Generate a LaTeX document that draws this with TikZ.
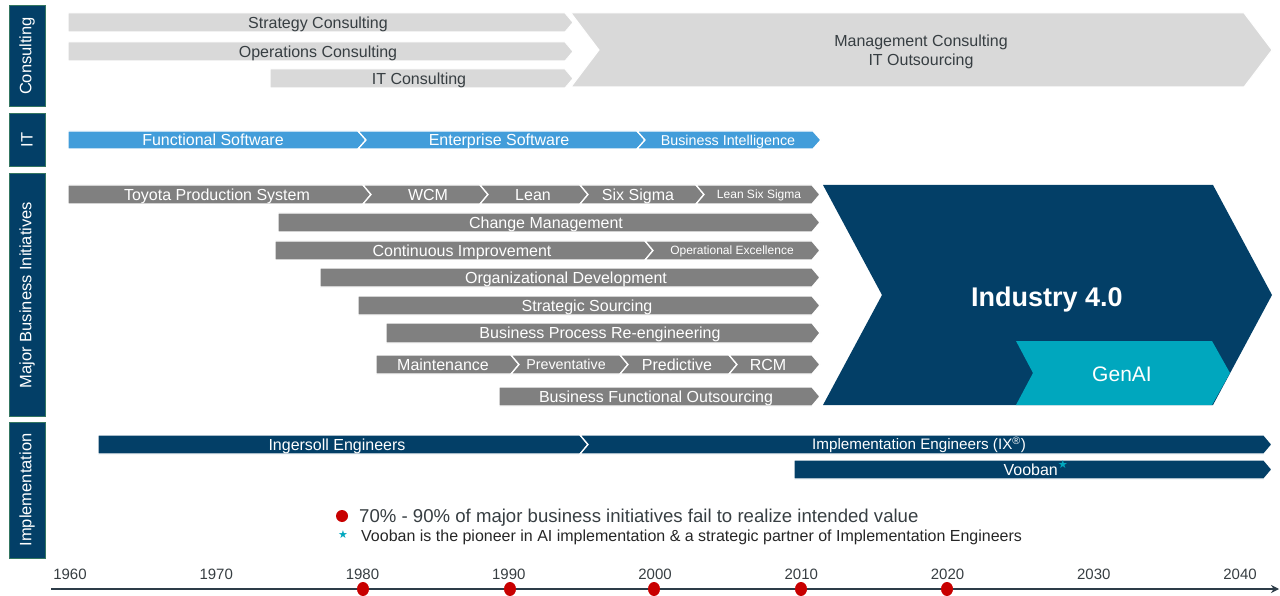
\documentclass[tikz,border=0pt]{standalone}
\usepackage{fontspec}
\setmainfont{Liberation Sans}
\newfontfamily\symfont{DejaVu Sans}
\usetikzlibrary{arrows.meta}
\definecolor{navy}{RGB}{3,63,103}
\definecolor{itblue}{RGB}{66,157,218}
\definecolor{mgray}{RGB}{128,128,128}
\definecolor{lgray}{RGB}{217,217,217}
\definecolor{tealc}{RGB}{0,167,190}
\definecolor{dred}{RGB}{200,0,0}
\definecolor{txtdark}{RGB}{55,62,66}
\definecolor{axisc}{RGB}{45,60,72}
\newcommand\cbar[7]{\pgfmathsetmacro\ymid{(#4+#5)/2}\path[#1] (#2,#4) -- (#3,#4) -- ({#3+#7},\ymid) -- (#3,#5) -- (#2,#5) -- ({#2+#6},\ymid) -- cycle;}
\tikzset{
  side/.style={fill=navy, draw=navy!75!green!60!gray, line width=0.6pt},
  sidetxt/.style={rotate=90, text=white, font=\fontsize{16.5}{18}\selectfont},
  segL/.style={fill=lgray, draw=white, line width=1pt},
  segB/.style={fill=itblue, draw=white, line width=1.3pt},
  segG/.style={fill=mgray, draw=white, line width=1.3pt},
  segN/.style={fill=navy, draw=white, line width=1.3pt},
  cap/.style={inner sep=0pt, text depth=0pt, text height=#1},
  ltxt/.style={text=txtdark, font=\fontsize{16}{19}\selectfont, cap=11.5pt},
  wtxt/.style={text=white, font=\fontsize{16}{19}\selectfont, cap=11.5pt},
  wsmall/.style={text=white, font=\fontsize{12}{14}\selectfont, cap=8.6pt},
  wmid/.style={text=white, font=\fontsize{14.3}{17}\selectfont, cap=10.2pt},
  year/.style={text=txtdark, font=\fontsize{15}{17}\selectfont, cap=10.7pt},
  rdot/.style={fill=dred, draw=none},
  axis/.style={draw=axisc, line width=2.2pt, -{Stealth[length=8pt,width=8pt]}},
}
\begin{document}
\begin{tikzpicture}[x=1pt,y=-1pt]
\useasboundingbox (0,0) rectangle (1280,596);
% sidebars
\path[side] (9,5) rectangle (45,106);
\path[side] (9,113) rectangle (45,166);
\path[side] (9,173) rectangle (45,416);
\path[side] (9,422) rectangle (45,558);
\node[sidetxt] (sCons) at (27,56) {Consulting};
\node[sidetxt] (sIT) at (27,140) {IT};
\node[sidetxt] (sMBI) at (27,295) {Major Business Initiatives};
\node[sidetxt] (sImp) at (27,490) {Implementation};
% consulting
\cbar{segL}{68}{565}{13}{32}{0}{8}
\cbar{segL}{68}{565}{42}{61}{0}{8}
\cbar{segL}{270}{565}{69}{88}{0}{8}
\cbar{segL}{571}{1244}{13}{87}{28}{28}
\node[ltxt] (strat) at (318,22.5) {Strategy Consulting};
\node[ltxt] (ops) at (318,51.5) {Operations Consulting};
\node[ltxt] (itc) at (419,78.5) {IT Consulting};
\node[ltxt] (mgmt) at (921,41) {Management Consulting};
\node[ltxt] (itout) at (921,60) {IT Outsourcing};
% IT
\cbar{segB}{68}{358}{131}{149}{0}{8}
\cbar{segB}{358}{637}{131}{149}{8}{8}
\cbar{segB}{637}{813}{131}{149}{8}{8}
\node[wtxt] (fs) at (213,140) {Functional Software};
\node[wtxt] (es) at (499,140) {Enterprise Software};
\node[wmid] (bi) at (728,140.5) {Business Intelligence};
% Major business initiatives
\cbar{segG}{68}{363}{185}{204}{0}{8}
\cbar{segG}{363}{480}{185}{204}{8}{8}
\cbar{segG}{480}{580}{185}{204}{8}{8}
\cbar{segG}{580}{696}{185}{204}{8}{8}
\cbar{segG}{696}{812}{185}{204}{8}{8}
\node[wtxt] (tps) at (217,194.5) {Toyota Production System};
\node[wtxt] (wcm) at (428,194.5) {WCM};
\node[wtxt] (lean) at (533,194.5) {Lean};
\node[wtxt] (ssig) at (638,194.5) {Six Sigma};
\node[wsmall] (lss) at (759,194.5) {Lean Six Sigma};
\cbar{segG}{278}{812}{213}{232}{0}{8}
\node[wtxt] (cm) at (546,222.5) {Change Management};
\cbar{segG}{275}{645}{241}{260}{0}{8}
\cbar{segG}{645}{812}{241}{260}{8}{8}
\node[wtxt] (ci) at (462,250.5) {Continuous Improvement};
\node[wsmall] (oe) at (732,250.5) {Operational Excellence};
\cbar{segG}{320}{812}{268}{287}{0}{8}
\node[wtxt] (od) at (566,277.5) {Organizational Development};
\cbar{segG}{358}{812}{296}{315}{0}{8}
\node[wtxt] (ssrc) at (587,305.5) {Strategic Sourcing};
\cbar{segG}{386}{812}{323}{343}{0}{8}
\node[wtxt] (bpr) at (600,333) {Business Process Re-engineering};
\cbar{segG}{376}{511}{355}{374}{0}{8}
\cbar{segG}{511}{620}{355}{374}{8}{8}
\cbar{segG}{620}{729}{355}{374}{8}{8}
\cbar{segG}{729}{812}{355}{374}{8}{8}
\node[wtxt] (mnt) at (443,364.5) {Maintenance};
\node[wmid] (prev) at (566,364.5) {Preventative};
\node[wtxt] (pred) at (677,364.5) {Predictive};
\node[wtxt] (rcm) at (768,364.5) {RCM};
\cbar{segG}{499}{812}{387}{406}{0}{8}
\node[wtxt] (bfo) at (656,396.5) {Business Functional Outsourcing};
% Industry 4.0
\path[fill=navy] (823,185) -- (1213,185) -- (1272,295) -- (1213,405) -- (823,405) -- (882,295) -- cycle;
\path[fill=tealc] (1016,341) -- (1212,341) -- (1230,373) -- (1212,405) -- (1016,405) -- (1033,373) -- cycle;
\node[text=white, font=\fontsize{27}{30}\selectfont\bfseries, cap=19.3pt] (ind) at (1047,297) {Industry 4.0};
\node[text=white, font=\fontsize{21}{24}\selectfont, cap=15pt] (genai) at (1122,374) {GenAI};
% Implementation
\cbar{segN}{98}{580}{435}{454}{0}{8}
\cbar{segN}{580}{1264}{435}{454}{8}{8}
\cbar{segN}{794}{1264}{460}{479}{0}{8}
\node[wtxt] (ing) at (337,444.5) {Ingersoll Engineers};
\node[wtxt, font=\fontsize{15.2}{18}\selectfont, cap=10.9pt] (ie) at (919,444.5) {Implementation Engineers (IX\textsuperscript{®})};
\node[wtxt] (voo) at (1036,469.5) {Vooban\textsuperscript{\textcolor{tealc}{\symfont★}}};
% legend
\path[rdot] (342,516) circle (6);
\node[anchor=west, text=txtdark, font=\fontsize{18.6}{22}\selectfont, cap=13.3pt] (leg1) at (359,516) {70\% - 90\% of major business initiatives fail to realize intended value};
\node[text=tealc, font=\fontsize{11}{12}\symfont, inner sep=0pt] (legstar) at (343,535) {★};
\node[anchor=west, text=black!85, font=\fontsize{16}{18}\selectfont, cap=11.5pt] (leg2) at (361,536) {Vooban is the pioneer in AI implementation \& a strategic partner of Implementation Engineers};
% timeline
\coordinate (ax0) at (51,589);
\coordinate (ax1) at (1279,589);
\draw[axis] (ax0) -- (ax1);
\foreach \yr [count=\i from 0] in {1960,1970,1980,1990,2000,2010,2020,2030,2040}{
  \node[year] (y\yr) at ({70+146.25*\i},574) {\yr};
}
\foreach \xx in {363,510,654,801,947}{
  \path[rdot] (\xx,589) ellipse (6 and 7);
}
\end{tikzpicture}
\end{document}
